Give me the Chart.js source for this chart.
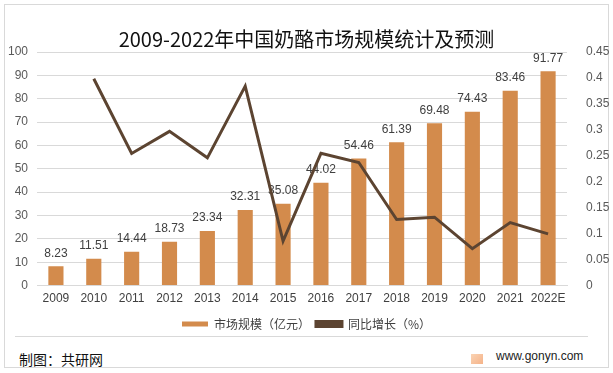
<!DOCTYPE html>
<html>
<head>
<meta charset="utf-8">
<script src="https://cdn.jsdelivr.net/npm/chart.js@4"></script>
<style>
  body { margin: 0; background: #fff; }
  #wrap { position: relative; width: 613px; height: 373px; overflow: hidden; font-family: "Noto Sans CJK SC", sans-serif; }
  #frame { position: absolute; left: 4px; top: 4px; width: 603px; height: 362px; border: 1px solid #d9d9d9; }
  #title { position: absolute; left: 0; top: 25px; width: 613px; text-align: center; font-size: 20px; color: #111; line-height: 28px; }
  #box { position: absolute; left: 0; top: 0; width: 613px; height: 340px; }
  #sep { position: absolute; left: 15px; top: 336px; width: 573px; height: 1px; background: #d9d9d9; }
  #src { position: absolute; left: 19px; top: 349px; font-size: 14px; color: #111; }
  #site { position: absolute; left: 496px; top: 349px; font-size: 12px; color: #222; font-family: "Liberation Sans", sans-serif; }
  #logo { position: absolute; left: 471px; top: 354px; width: 12px; height: 10px; background: linear-gradient(135deg, #f8c49a, #f29a62); opacity: .75; }
</style>
</head>
<body>
<div id="wrap">
  <div id="frame"></div>
  <div id="box"><canvas id="myChart" width="613" height="340"></canvas></div>
  <div id="title">2009-2022年中国奶酪市场规模统计及预测</div>
  <div id="sep"></div>
  <div id="src">制图：共研网</div>
  <div id="logo"></div>
  <div id="site">www.gonyn.com</div>
</div>
<script>
const years = ['2009', '2010', '2011', '2012', '2013', '2014', '2015', '2016', '2017', '2018', '2019', '2020', '2021', '2022E'];
const marketSize = [8.23, 11.51, 14.44, 18.73, 23.34, 32.31, 35.08, 44.02, 54.46, 61.39, 69.48, 74.43, 83.46, 91.77];
const growth = [null, 0.3985, 0.2546, 0.2971, 0.2461, 0.3843, 0.0857, 0.2548, 0.2372, 0.1273, 0.1318, 0.0712, 0.1213, 0.0996];

const barColor = '#D38B4C';
const lineColor = '#5C4431';

// value labels above the bars, drawn before the line so the line sits on top
const barLabels = {
  id: 'barLabels',
  afterDatasetDraw(chart, args) {
    if (args.index !== 0) return;
    const ctx = chart.ctx;
    ctx.save();
    ctx.font = '12px "Liberation Sans", sans-serif';
    ctx.fillStyle = '#404040';
    ctx.textAlign = 'center';
    ctx.textBaseline = 'middle';
    args.meta.data.forEach((bar, i) => {
      ctx.fillText(marketSize[i].toFixed(2), bar.x, bar.y - 13);
    });
    ctx.restore();
  }
};

var ctx = document.getElementById('myChart').getContext('2d');
var myChart = new Chart(ctx, {
  type: 'bar',
  data: {
    labels: years,
    datasets: [{
      label: '市场规模（亿元）',
      data: marketSize,
      backgroundColor: barColor,
      yAxisID: 'y',
      barPercentage: 0.4,
      categoryPercentage: 1,
      order: 1
    }, {
      type: 'line',
      label: '同比增长（%）',
      data: growth,
      borderColor: lineColor,
      backgroundColor: lineColor,
      borderWidth: 3,
      pointRadius: 0,
      tension: 0,
      yAxisID: 'y1',
      order: 0
    }]
  },
  options: {
    responsive: false,
    animation: false,
    layout: { padding: { top: 52, bottom: 0 } },
    plugins: {
      tooltip: { enabled: false },
      legend: {
        position: 'bottom',
        labels: {
          boxWidth: 26,
          boxHeight: 5,
          padding: 6,
          color: '#404040',
          font: { size: 12, family: '"Noto Sans CJK SC", sans-serif' },
          sort: (a, b) => a.datasetIndex - b.datasetIndex
        }
      }
    },
    scales: {
      x: {
        grid: { display: false, drawTicks: false },
        border: { color: '#d9d9d9' },
        ticks: { color: '#404040', font: { size: 12, family: '"Liberation Sans", sans-serif' }, maxRotation: 0, autoSkip: false, padding: 6 }
      },
      y: {
        position: 'left',
        min: 0, max: 100,
        ticks: { stepSize: 10, color: '#595959', font: { size: 12, family: '"Liberation Sans", sans-serif' }, padding: 9 },
        grid: { color: '#d9d9d9', drawTicks: false },
        border: { display: false },
        afterFit(s) { s.width = 37; }
      },
      y1: {
        position: 'right',
        min: 0, max: 0.45,
        ticks: {
          stepSize: 0.05, color: '#595959', padding: 11,
          font: { size: 12, family: '"Liberation Sans", sans-serif' },
          callback: v => parseFloat(v.toFixed(2))
        },
        grid: { display: false },
        border: { display: false },
        afterFit(s) { s.width = 46; }
      }
    }
  },
  plugins: [barLabels]
});
</script>
</body>
</html>
